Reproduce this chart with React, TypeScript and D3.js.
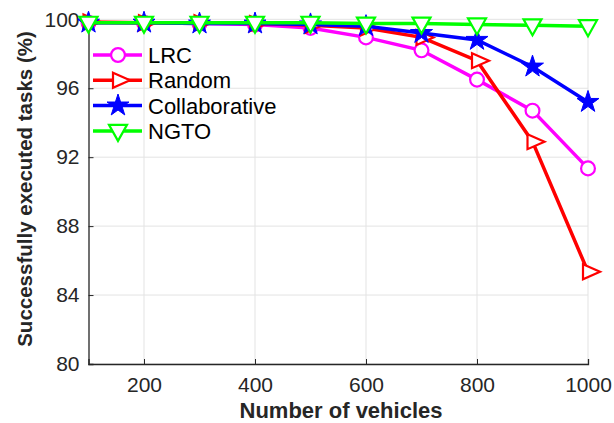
import { useEffect, useRef } from 'react';
import * as d3 from 'd3';

const vehicles = [100, 200, 300, 400, 500, 600, 700, 800, 900, 1000];
const lrc = [99.8, 99.8, 99.75, 99.7, 99.5, 98.95, 98.2, 96.5, 94.7, 91.35];
const random = [99.85, 99.8, 99.8, 99.75, 99.65, 99.5, 98.95, 97.6, 92.9, 85.35];
const collaborative = [99.8, 99.8, 99.75, 99.75, 99.7, 99.6, 99.2, 98.8, 97.25, 95.2];
const ngto = [99.8, 99.8, 99.8, 99.8, 99.8, 99.75, 99.75, 99.7, 99.65, 99.6];
const seriesNames = ['LRC', 'Random', 'Collaborative', 'NGTO'];
const seriesColors = ['#ff00ff', '#ff0000', '#0000ff', '#00ff00'];
const seriesMarkers = ['circle', 'triangleRight', 'star', 'triangleDown'];
const xTicks = [200, 400, 600, 800, 1000];
const yTicks = [80, 84, 88, 92, 96, 100];

function markerPath(kind: string) {
  if (kind === 'circle') return d3.symbol(d3.symbolCircle, 150)();
  if (kind === 'star') return d3.symbol(d3.symbolStar, 150)();
  if (kind === 'triangleRight') return 'M-5,-7.5L12,0L-5,7.5Z';
  return 'M-9,-6L9,-6L0,10Z';
}

export default function App() {
  const ref = useRef<SVGSVGElement>(null);

  useEffect(() => {
    const svg = d3.select(ref.current);
    svg.selectAll('*').remove();
    const font = 'Liberation Sans, Arial, sans-serif';
    const ink = '#262626';

    const x = d3.scaleLinear().domain([100, 1000]).range([88.5, 588]);
    const y = d3.scaleLinear().domain([80, 100]).range([364, 19.3]);

    const g = svg.append('g');

    // grid
    g.selectAll('.gx').data(xTicks).join('line')
      .attr('x1', d => x(d)).attr('x2', d => x(d))
      .attr('y1', y(80)).attr('y2', y(100))
      .attr('stroke', '#e3e3e3').attr('stroke-width', 1);
    g.selectAll('.gy').data(yTicks).join('line')
      .attr('x1', x(100)).attr('x2', x(1000))
      .attr('y1', d => y(d)).attr('y2', d => y(d))
      .attr('stroke', '#e3e3e3').attr('stroke-width', 1);

    // axes
    const xAxis = g.append('g').attr('transform', `translate(0,${y(80)})`)
      .call(d3.axisBottom(x).tickValues(xTicks).tickSize(-5).tickPadding(13).tickFormat(d3.format('d')));
    const yAxis = g.append('g').attr('transform', `translate(${x(100)},0)`)
      .call(d3.axisLeft(y).tickValues(yTicks).tickSize(-5).tickPadding(9).tickFormat(d3.format('d')));
    [xAxis, yAxis].forEach(a => {
      a.select('.domain').attr('stroke', ink).attr('stroke-width', 1.3);
      a.selectAll('.tick line').attr('stroke', ink);
      a.selectAll('.tick text').attr('fill', ink).style('font-family', font).style('font-size', '21px');
    });

    const all = [lrc, random, collaborative, ngto];
    const line = d3.line<number>().x((_, i) => x(vehicles[i])).y(d => y(d));

    all.forEach((vals, k) => {
      g.append('path').datum(vals)
        .attr('fill', 'none').attr('stroke', seriesColors[k]).attr('stroke-width', 3.5)
        .attr('d', line);
      g.selectAll(null).data(vals).join('path')
        .attr('transform', (d, i) => `translate(${x(vehicles[i])},${y(d)})`)
        .attr('d', markerPath(seriesMarkers[k]) as string)
        .attr('fill', seriesMarkers[k] === 'star' ? seriesColors[k] : 'white')
        .attr('stroke', seriesColors[k]).attr('stroke-width', seriesMarkers[k] === 'star' ? 1 : 2.2);
    });

    // legend
    const leg = g.append('g');
    seriesNames.forEach((name, k) => {
      const ly = 55 + k * 25.3;
      leg.append('line').attr('x1', 93).attr('x2', 142).attr('y1', ly).attr('y2', ly)
        .attr('stroke', seriesColors[k]).attr('stroke-width', 3.5);
      leg.append('path').attr('transform', `translate(118,${ly})`)
        .attr('d', markerPath(seriesMarkers[k]) as string)
        .attr('fill', seriesMarkers[k] === 'star' ? seriesColors[k] : 'white')
        .attr('stroke', seriesColors[k]).attr('stroke-width', seriesMarkers[k] === 'star' ? 1 : 2.2);
      leg.append('text').attr('x', 148).attr('y', ly).attr('dy', '0.36em')
        .attr('fill', 'black').style('font-family', font).style('font-size', '22px').text(name);
    });

    // labels
    svg.append('text').attr('x', 341).attr('y', 418).attr('text-anchor', 'middle')
      .attr('fill', ink).style('font-family', font).style('font-size', '22px').style('font-weight', 'bold')
      .text('Number of vehicles');
    svg.append('text').attr('transform', `translate(32,189) rotate(-90)`).attr('text-anchor', 'middle')
      .attr('fill', ink).style('font-family', font).style('font-size', '20.5px').style('font-weight', 'bold')
      .text('Successfully executed tasks (%)');
  }, []);

  return (
    <svg ref={ref} width={614} height={423} style={{ position: 'absolute', left: 0, top: 0, background: 'white' }} />
  );
}
